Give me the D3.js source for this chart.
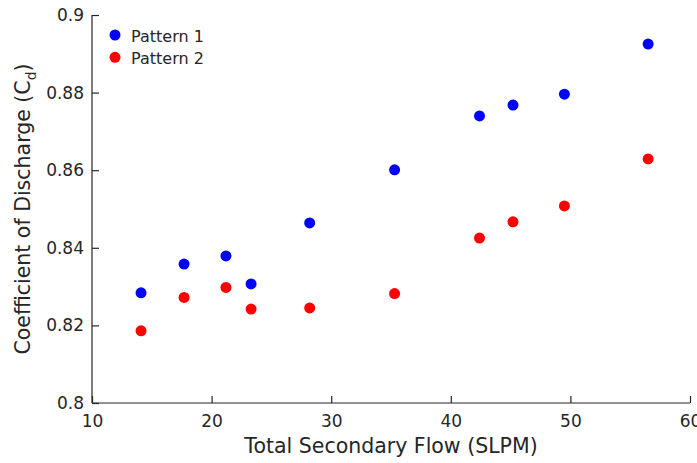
<!DOCTYPE html>
<html><head><meta charset="utf-8">
<script src="https://cdn.jsdelivr.net/npm/d3@7"></script>
<style>body{margin:0;background:#fff}svg text{font-family:"DejaVu Sans",sans-serif;fill:#262626}</style>
</head><body>
<script>
const flow = [14.1, 17.7, 21.2, 23.3, 28.2, 35.3, 42.4, 45.2, 49.5, 56.5];
const pattern1 = [0.8284, 0.8358, 0.8379, 0.8307, 0.8464, 0.8601, 0.8740, 0.8768, 0.8796, 0.8925];
const pattern2 = [0.8186, 0.8272, 0.8298, 0.8242, 0.8245, 0.8282, 0.8425, 0.8467, 0.8508, 0.8629];
const seriesNames = ["Pattern 1", "Pattern 2"];
const seriesColors = ["#0000ff", "#ff0000"];
const xTicks = [10, 20, 30, 40, 50, 60];
const yTicks = [0.8, 0.82, 0.84, 0.86, 0.88, 0.9];

const W = 697, H = 463;
const m = {left: 92, right: 7, top: 15, bottom: 60};
const svg = d3.select("body").append("svg").attr("width", W).attr("height", H);
const x = d3.scaleLinear().domain([10, 60]).range([m.left, W - m.right]);
const y = d3.scaleLinear().domain([0.8, 0.9]).range([H - m.bottom, m.top]);

const xAxis = svg.append("g").attr("transform", `translate(0,${H - m.bottom})`)
  .call(d3.axisBottom(x).tickValues(xTicks).tickSize(-7).tickPadding(12).tickFormat(d3.format("d")));
const yAxis = svg.append("g").attr("transform", `translate(${m.left},0)`)
  .call(d3.axisLeft(y).tickValues(yTicks).tickSize(-7).tickPadding(8).tickFormat(d => d3.format("")(+d.toFixed(2))));
[xAxis, yAxis].forEach(g => {
  g.selectAll("path,line").attr("stroke", "#262626").attr("stroke-width", 1.2);
  g.selectAll("text").style("font-size", "17px").attr("fill", "#262626");
});
xAxis.select(".domain").attr("d", `M${x(10)},0H${x(60)}`);
yAxis.select(".domain").attr("d", `M0,${y(0.8)}V${y(0.9)}`);

svg.append("text").attr("x", (x(10) + x(60)) / 2).attr("y", 453).attr("text-anchor", "middle")
  .style("font-size", "20.5px").text("Total Secondary Flow (SLPM)");
const yl = svg.append("text").attr("transform", `translate(30,${(y(0.8) + y(0.9)) / 2}) rotate(-90)`)
  .attr("text-anchor", "middle").style("font-size", "20.5px");
yl.append("tspan").text("Coefficient of Discharge (C");
yl.append("tspan").attr("dy", 6).style("font-size", "14px").text("d");
yl.append("tspan").attr("dy", -6).text(")");

[pattern1, pattern2].forEach((vals, i) => {
  svg.append("g").selectAll("circle").data(vals).join("circle")
    .attr("cx", (d, j) => x(flow[j])).attr("cy", d => y(d)).attr("r", 5.5)
    .attr("fill", seriesColors[i]);
});

const lg = svg.append("g");
seriesNames.forEach((n, i) => {
  lg.append("circle").attr("cx", 115).attr("cy", 35 + i * 22.3).attr("r", 5.5).attr("fill", seriesColors[i]);
  lg.append("text").attr("x", 131).attr("y", 35 + i * 22.3 + 6.5).style("font-size", "16px").text(n);
});
</script>
</body></html>
